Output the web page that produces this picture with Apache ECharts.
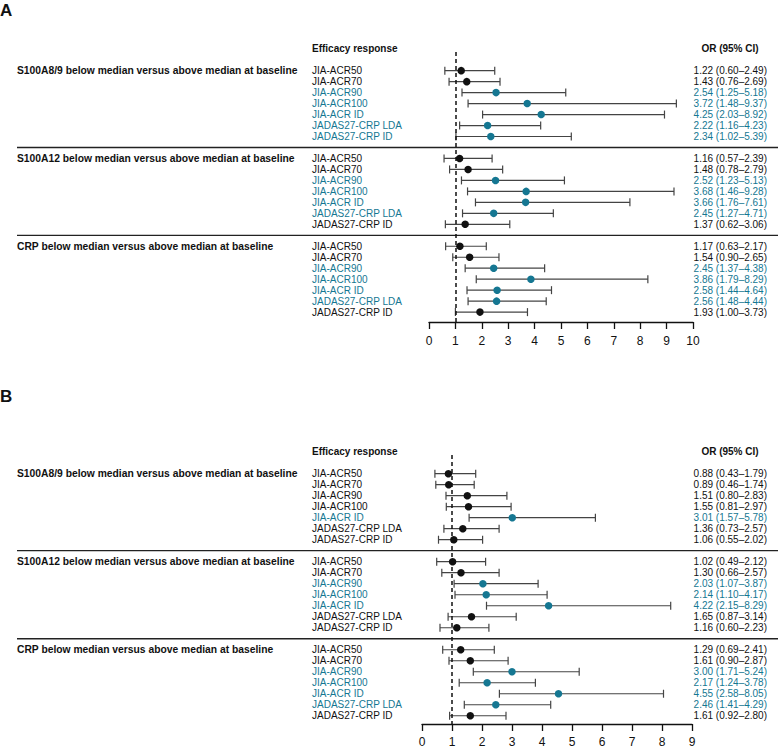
<!DOCTYPE html>
<html><head><meta charset="utf-8">
<script src="https://cdn.jsdelivr.net/npm/echarts@6/dist/echarts.min.js"></script>
<style>html,body{margin:0;padding:0;background:#fff}#c{width:778px;height:748px}</style>
</head><body><div id="c"></div>
<script>
// ---------- DATA ----------
const responses = ['JIA-ACR50','JIA-ACR70','JIA-ACR90','JIA-ACR100','JIA-ACR ID','JADAS27-CRP LDA','JADAS27-CRP ID'];
const groups = [
  'S100A8/9 below median versus above median at baseline',
  'S100A12 below median versus above median at baseline',
  'CRP below median versus above median at baseline'
];
const ticksA = [0,1,2,3,4,5,6,7,8,9,10];
const ticksB = [0,1,2,3,4,5,6,7,8,9];

// Panel A
const A_S100A89_or = [1.22,1.43,2.54,3.72,4.25,2.22,2.34];
const A_S100A89_lo = [0.60,0.76,1.25,1.48,2.03,1.16,1.02];
const A_S100A89_hi = [2.49,2.69,5.18,9.37,8.92,4.23,5.39];
const A_S100A12_or = [1.16,1.48,2.52,3.68,3.66,2.45,1.37];
const A_S100A12_lo = [0.57,0.78,1.23,1.46,1.76,1.27,0.62];
const A_S100A12_hi = [2.39,2.79,5.13,9.28,7.61,4.71,3.06];
const A_CRP_or = [1.17,1.54,2.45,3.86,2.58,2.56,1.93];
const A_CRP_lo = [0.63,0.90,1.37,1.79,1.44,1.48,1.00];
const A_CRP_hi = [2.17,2.65,4.38,8.29,4.64,4.44,3.73];

// Panel B
const B_S100A89_or = [0.88,0.89,1.51,1.55,3.01,1.36,1.06];
const B_S100A89_lo = [0.43,0.46,0.80,0.81,1.57,0.73,0.55];
const B_S100A89_hi = [1.79,1.74,2.83,2.97,5.78,2.57,2.02];
const B_S100A12_or = [1.02,1.30,2.03,2.14,4.22,1.65,1.16];
const B_S100A12_lo = [0.49,0.66,1.07,1.10,2.15,0.87,0.60];
const B_S100A12_hi = [2.12,2.57,3.87,4.17,8.29,3.14,2.23];
const B_CRP_or = [1.29,1.61,3.00,2.17,4.55,2.46,1.61];
const B_CRP_lo = [0.69,0.90,1.71,1.24,2.58,1.41,0.92];
const B_CRP_hi = [2.41,2.87,5.24,3.78,8.05,4.29,2.80];

// ---------- STYLE / LAYOUT ----------
const FONT = '"Liberation Sans", Arial, Helvetica, sans-serif';
const TEAL = '#157792';
const BLACK = '#111';
const LINE = '#444';
const panels = [
  { letter:'A', letterTop:2, ticks:ticksA, left:429, right:85, top:52, height:270, ymin:-1.7, ymax:22.9, labelMargin:13,
    sets:[[A_S100A89_or,A_S100A89_lo,A_S100A89_hi],[A_S100A12_or,A_S100A12_lo,A_S100A12_hi],[A_CRP_or,A_CRP_lo,A_CRP_hi]] },
  { letter:'B', letterTop:388, ticks:ticksB, left:422, right:86, top:455, height:270, ymin:-1.7, ymax:22.75, labelMargin:12,
    sets:[[B_S100A89_or,B_S100A89_lo,B_S100A89_hi],[B_S100A12_or,B_S100A12_lo,B_S100A12_hi],[B_CRP_or,B_CRP_lo,B_CRP_hi]] }
];
const LABEL_X = 312, VALUE_X = 767, ORHEAD_X = 730, GROUP_X = 17, SEP_X2 = 778;

function fmt(v){ return v.toFixed(2); }

const grid = [], xAxis = [], yAxis = [], series = [], graphic = [];

panels.forEach((p, pi) => {
  grid.push({ left:p.left, right:p.right, top:p.top, height:p.height, containLabel:false });
  const tmax = p.ticks[p.ticks.length-1];
  xAxis.push({ gridIndex:pi, type:'value', position:'bottom', min:p.ticks[0], max:tmax, interval:1,
    axisLine:{ show:true, onZero:false, lineStyle:{ color:'#111', width:1.3 } },
    axisTick:{ show:true, length:7, lineStyle:{ color:'#111', width:1.3 } },
    axisLabel:{ color:'#111', fontSize:12, fontFamily:FONT, margin:p.labelMargin },
    splitLine:{ show:false } });
  yAxis.push({ gridIndex:pi, type:'value', inverse:true, min:p.ymin, max:p.ymax, show:false });

  const rowItems = [], bars = [], points = [];
  p.sets.forEach((s, g) => {
    const [or, lo, hi] = s;
    responses.forEach((r, i) => {
      const row = g*8 + i;
      const sig = lo[i] > 1 ? 1 : 0;
      rowItems.push({ value:[0,row], name:r, right:`${fmt(or[i])} (${fmt(lo[i])}–${fmt(hi[i])})`, sig });
      bars.push([lo[i], hi[i], row]);
      points.push([or[i], row, sig]);
    });
  });

  // error bars
  series.push({ type:'custom', xAxisIndex:pi, yAxisIndex:pi, clip:false, z:2, silent:true,
    encode:{ x:[0,1], y:2 },
    data: bars,
    renderItem(params, api){
      const y = api.value(2);
      const a = api.coord([api.value(0), y]);
      const b = api.coord([api.value(1), y]);
      const h = 4;
      const st = { stroke:LINE, lineWidth:1.2 };
      return { type:'group', children:[
        { type:'line', shape:{ x1:a[0], y1:a[1], x2:b[0], y2:b[1] }, style:st },
        { type:'line', shape:{ x1:a[0], y1:a[1]-h, x2:a[0], y2:a[1]+h }, style:st },
        { type:'line', shape:{ x1:b[0], y1:b[1]-h, x2:b[0], y2:b[1]+h }, style:st }
      ]};
    }
  });

  // points + reference line at OR = 1
  series.push({ type:'scatter', xAxisIndex:pi, yAxisIndex:pi, z:4, silent:true,
    symbol:'circle', symbolSize:7.5,
    data: points,
    itemStyle:{ opacity:1, color: (prm) => prm.value[2] ? TEAL : BLACK },
    markLine:{ silent:true, symbol:['none','none'], label:{ show:false },
      lineStyle:{ color:'#111', type:[4,3], width:1.5 },
      data:[{ xAxis:1 }] , animation:false }
  });

  // row texts (left labels and right OR values)
  series.push({ type:'custom', xAxisIndex:pi, yAxisIndex:pi, clip:false, z:3, silent:true,
    data: rowItems,
    renderItem(params, api){
      const it = rowItems[params.dataIndex];
      const y = api.coord([0, it.value[1]])[1];
      const col = it.sig ? TEAL : BLACK;
      return { type:'group', children:[
        { type:'text', style:{ text:it.name, x:LABEL_X, y, align:'left', verticalAlign:'middle', textAlign:'left', textVerticalAlign:'middle', font:'10px '+FONT, fill:col } },
        { type:'text', style:{ text:it.right, x:VALUE_X, y, align:'right', verticalAlign:'middle', textAlign:'right', textVerticalAlign:'middle', font:'10px '+FONT, fill:col } }
      ]};
    }
  });

  // group labels, headers and separators
  const extra = [
    { value:[0,-2.05], kind:'head' },
    { value:[0,0], kind:'group', g:0 },
    { value:[0,8], kind:'group', g:1 },
    { value:[0,16], kind:'group', g:2 },
    { value:[0,7], kind:'sep' },
    { value:[0,15], kind:'sep' }
  ];
  series.push({ type:'custom', xAxisIndex:pi, yAxisIndex:pi, clip:false, z:3, silent:true,
    data: extra,
    renderItem(params, api){
      const it = extra[params.dataIndex];
      const y = api.coord([0, it.value[1]])[1];
      const bold = 'bold 10px '+FONT;
      if (it.kind === 'head') {
        return { type:'group', children:[
          { type:'text', style:{ text:'Efficacy response', x:LABEL_X, y, align:'left', verticalAlign:'middle', textAlign:'left', textVerticalAlign:'middle', font:bold, fill:BLACK } },
          { type:'text', style:{ text:'OR (95% CI)', x:ORHEAD_X, y, align:'center', verticalAlign:'middle', textAlign:'center', textVerticalAlign:'middle', font:bold, fill:BLACK } }
        ]};
      }
      if (it.kind === 'group') {
        return { type:'text', style:{ text:groups[it.g], x:GROUP_X, y, align:'left', verticalAlign:'middle', textAlign:'left', textVerticalAlign:'middle', font:'bold 10.3px '+FONT, fill:BLACK } };
      }
      return { type:'line', shape:{ x1:GROUP_X, y1:y, x2:SEP_X2, y2:y }, style:{ stroke:'#222', lineWidth:1.3 } };
    }
  });

  graphic.push({ type:'text', left:0, top:p.letterTop, silent:true,
    style:{ text:p.letter, font:'bold 17px '+FONT, fill:BLACK } });
});

const chart = echarts.init(document.getElementById('c'), null, { renderer:'svg', width:778, height:748 });
chart.setOption({ animation:false, backgroundColor:'#fff', grid, xAxis, yAxis, series, graphic });
</script></body></html>
